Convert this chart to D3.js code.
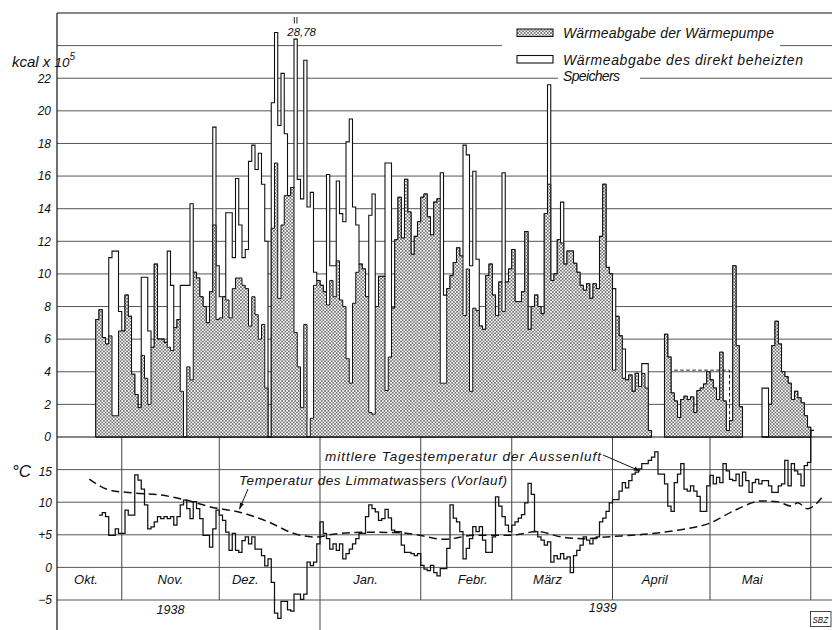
<!DOCTYPE html>
<html><head><meta charset="utf-8">
<script src="https://cdn.jsdelivr.net/npm/d3@7"></script>
<style>
body{margin:0;background:#fff}
text{font-family:"Liberation Sans","DejaVu Sans",sans-serif;font-style:italic;fill:#111}
</style>
</head><body>
<svg id="c" width="832" height="630"></svg>
<script>
// ---------------- DATA ----------------
const heatStart = "1938-10-24"; // first day of the daily heat series
// Wärmeabgabe der Wärmepumpe (kcal x 10^5), one value per day, null = no operation
const pump = [
7.2,7.8,6.1,5.7,6.2,1.3,1.3,6.5,6.5,8.7,
7.4,3.85,2.6,1.8,5.0,3.6,2.0,5.5,10.6,6.0,
6.0,5.8,5.5,5.3,6.7,7.2,2.8,0,4.3,3.5,
10.1,9.75,8.6,8.0,7.0,8.9,13.0,7.2,7.3,8.6,
8.4,7.3,9.1,9.75,9.75,9.3,9.1,6.8,8.6,7.5,
6.0,6.9,3.0,0,12.8,16.8,8.5,13.0,14.8,14.8,
15.3,6.4,4.3,1.8,6.9,0,1.15,9.3,9.6,9.3,
8.9,8.1,9.6,8.6,10.8,8.4,8.0,4.8,3.3,8.2,
10.1,10.6,10.3,8.6,1.5,1.4,8.0,9.85,9.85,2.85,
4.9,7.9,12.1,14.7,12.2,15.8,13.8,11.2,12.3,13.2,
14.7,14.9,13.5,12.4,14.4,14.6,3.3,3.3,9.1,9.9,
10.7,11.6,11.1,7.45,10.3,2.8,7.9,7.75,6.8,6.6,
9.9,10.6,8.7,7.45,9.5,7.7,9.5,10.3,11.5,8.3,
8.3,8.9,12.6,6.6,8.0,8.7,8.0,7.55,13.7,15.5,
9.6,10.0,12.1,11.9,10.6,11.4,11.4,10.65,10.1,9.3,
9.0,9.4,8.5,9.4,9.1,12.3,15.5,10.4,10.0,4.1,
7.4,6.2,3.6,3.5,3.8,2.8,3.9,3.1,3.9,3.0,
0.4,null,null,null,null,6.3,4.9,2.7,2.2,1.2,
2.3,2.5,2.3,2.45,1.5,2.85,3.0,3.25,4.0,3.5,
3.0,2.3,5.2,2.2,0.4,1.0,10.5,5.6,1.85,null,
null,null,null,null,null,0,0,2.0,5.6,7.1,
5.7,4.0,3.7,3.3,2.3,2.8,2.4,2.1,1.3,0.6
];
// Wärmeabgabe des direkt beheizten Speichers (kcal x 10^5), stacked on top
const storage = [
0,0,0,0,4.8,10.1,10.1,1.2,0,0,
0,0,0,0,4.8,6.2,4.5,0,0,0,
0,0,5.9,4.0,0,0,6.5,9.3,5.0,10.8,
0,0,0,0,0,0,6.0,3.3,1.3,0,
5.35,6.45,1.9,6.1,3.25,1.7,2.4,10.1,9.3,8.9,
11.4,8.6,9.0,0,7.7,8.0,10.6,9.3,3.8,0,
0,22.38,11.5,12.8,16.2,14.1,13.85,0.8,0,0,
0,8.0,0.9,1.9,4.9,5.3,5.2,13.3,16.2,5.9,
2.9,0,0,0,12.1,13.5,0,0,0,13.95,
11.9,0,0,0,0,0,0,0,0,0,
0,0,0,0,0,0,12.9,5.4,0,0,
0,0,0,10.45,7.0,7.7,8.4,3.15,0,0,
0,0,0,0,0,8.5,0,0,0,0,
0,0,0,0,0,0,0,0,0,6.1,
0,0,0,2.5,0,0,0,0,0,0,
0,0,0,0,0,0,0,0,0,5.0,
0,0,1.8,0,0,0,0,0,0.6,1.5,
0,null,null,null,null,0,0,0,0,0,
0,0,0,0,0,0,0,0,0,0,
0,0,0,0,0,0,0,0,0,null,
null,null,null,null,null,3.0,3.0,0,0,0,
0,0,0,0,0,0,0,0,0,0
];
// dashed estimate in April / May (kcal x 10^5)
const estimateDates = ["1939-04-20","1939-05-07","1939-05-07"];
const estimateValues = [4.1,4.1,1.1];

// mittlere Tagestemperatur der Aussenluft (°C), daily
const airStart = "1938-10-25";
const airTemp = [
8.0,8.4,7.8,4.9,4.9,5.9,5.2,5.2,8.8,8.0,
8.0,14.2,13.4,12.0,9.6,5.9,6.2,7.0,7.8,7.5,
7.8,7.5,7.8,6.5,7.8,9.6,10.3,9.0,7.5,10.1,
9.0,7.5,4.9,4.9,3.1,5.9,8.8,8.0,7.2,5.4,
2.6,5.2,2.6,2.3,4.1,4.7,3.6,4.7,2.8,2.8,
1.8,0.25,1.3,-2.3,-7.0,-7.8,-5.2,-5.2,-6.5,-6.7,
-4.1,-4.1,-4.9,-4.1,0.8,0.26,0.8,3.6,7.0,5.2,
4.4,2.8,3.6,2.6,3.6,1.3,2.1,2.8,3.6,4.4,
5.2,5.2,7.8,9.6,9.0,8.5,7.2,7.5,8.9,7.6,
5.7,5.5,5.5,3.4,2.3,2.3,
2.1,1.8,2.1,0.3,-0.25,-0.5,0.3,-0.8,-1.3,-0.2,
-0.2,2.9,9.6,7.55,7.0,5.5,1.3,2.9,4.4,6.25,
5.5,6.25,4.2,2.3,2.3,4.7,10.8,9.4,7.8,6.5,
5.5,6.5,7.0,7.55,8.1,9.9,12.9,11.2,5.5,4.7,
4.2,3.4,3.9,0.8,1.8,1.3,2.1,1.3,1.6,-0.8,
1.8,2.6,3.4,4.7,4.2,3.6,4.4,4.7,7.0,7.55,
8.6,9.9,10.4,10.4,11.7,13.0,12.2,13.3,14.3,14.6,
15.1,15.9,15.9,16.4,16.9,17.7,14.3,14.3,12.8,9.4,
8.6,13.0,14.3,15.9,12.0,11.7,12.5,11.7,10.9,8.6,
8.6,12.5,14.1,12.8,13.8,13.0,15.9,14.8,13.5,13.3,
14.3,12.5,14.6,13.3,11.5,13.0,13.5,12.8,13.3,13.3,
12.5,11.5,11.5,12.5,12.8,16.4,12.5,15.9,14.8,14.3,
12.5,15.6,16.1,21.0
];
// Temperatur des Limmatwassers (Vorlauf), °C
const waterDates = ["1938-10-22","1938-10-28","1938-11-05","1938-11-13","1938-11-21","1938-11-29",
"1938-12-07","1938-12-16","1938-12-24","1938-12-31","1939-01-05","1939-01-16","1939-01-26",
"1939-02-01","1939-02-08","1939-02-18","1939-03-01","1939-03-09","1939-03-16","1939-03-23",
"1939-03-31","1939-04-10","1939-04-21","1939-05-01","1939-05-09","1939-05-17","1939-05-22",
"1939-05-26","1939-05-28","1939-05-31","1939-06-05"];
const waterTemp = [13.55,11.9,11.4,11.1,10.3,9.2,8.5,7.0,5.2,4.65,5.1,5.4,5.3,4.9,4.3,4.95,4.95,
5.5,4.7,4.4,4.7,5.05,5.7,6.8,8.85,10.2,10.05,9.4,9.9,9.0,11.1];

const heatTicks = [0,2,4,6,8,10,12,14,16,18,20,22];
const heatGrid = [2,4,6,8,10,12,14,16,18,20,22,24];
const tempTicks = [15,10,5,0,-5];
const tempTickLabels = ["15","10","+5","0","\u22125"];
const monthNames = ["Okt.","Nov.","Dez.","Jan.","Febr.","März","April","Mai"];
const yearNames = ["1938","1939"];

// ---------------- LAYOUT ----------------
const parse = d3.utcParse("%Y-%m-%d");
const DAY = 864e5;
const L = 57, R = 832, TOP = 13;
const x = d3.scaleUtc().domain([Date.UTC(1938,9,1), Date.UTC(1939,5,1)]).range([21, 810.75]);
const yH = d3.scaleLinear().domain([0,26]).range([437,13]);
const yT = d3.scaleLinear().domain([-5,20]).range([600,437]);
const offScale = 26, breakAt = 24.4;

const svg = d3.select("#c");
const defs = svg.append("defs");
const pat = defs.append("pattern").attr("id","hatch").attr("patternUnits","userSpaceOnUse")
  .attr("width",3.3).attr("height",3.3);
pat.append("rect").attr("width",3.3).attr("height",3.3).attr("fill","#fff");
pat.append("path").attr("d","M0,0L3.3,3.3M3.3,0L0,3.3").attr("stroke","#262626").attr("stroke-width",0.55);
defs.append("clipPath").attr("id","plot").append("rect").attr("x",L).attr("y",TOP).attr("width",R-L).attr("height",630-TOP);
defs.append("marker").attr("id","arr").attr("viewBox","0 0 10 10").attr("refX",9).attr("refY",5)
  .attr("markerWidth",7).attr("markerHeight",7).attr("orient","auto-start-reverse")
  .append("path").attr("d","M0,2L10,5L0,8Z").attr("fill","#111");

const gridC = "#444";
const g = svg.append("g");
heatGrid.forEach(v => g.append("line").attr("x1",L).attr("x2",R).attr("y1",yH(v)).attr("y2",yH(v))
  .attr("stroke",gridC).attr("stroke-width",0.9));
tempTicks.forEach(v => g.append("line").attr("x1",L).attr("x2",R).attr("y1",yT(v)).attr("y2",yT(v))
  .attr("stroke",gridC).attr("stroke-width",0.9));
const monthStarts = d3.utcMonth.range(new Date(Date.UTC(1938,10,1)), new Date(Date.UTC(1939,5,2)));
monthStarts.forEach(m => {
  const yearEdge = m.getUTCMonth() === 0;
  g.append("line").attr("x1",x(m)).attr("x2",x(m)).attr("y1",yT(20)).attr("y2",yearEdge?630:yT(-5))
   .attr("stroke",gridC).attr("stroke-width",1);
});
g.append("rect").attr("x",502).attr("y",40).attr("width",278).attr("height",12).attr("fill","#fff");
g.append("rect").attr("x",558).attr("y",70).attr("width",82).attr("height",14).attr("fill","#fff");

// ---------------- BARS ----------------
const t0 = parse(heatStart).getTime();
const rows = pump.map((p,i) => ({date:new Date(t0 + i*DAY), p, s:storage[i]}));
const runs = []; let cur = null;
rows.forEach(r => {
  if (r.p === null) { cur = null; return; }
  if (!cur) { cur = []; runs.push(cur); }
  cur.push(r);
});
const shown = v => v > offScale ? breakAt : v;
const bars = svg.append("g").attr("clip-path","url(#plot)");
runs.forEach(run => {
  const last = run[run.length-1];
  const pts = run.concat([{date:new Date(last.date.getTime()+DAY), p:last.p, s:last.s}]);
  const totalArea = d3.area().curve(d3.curveStepAfter).x(d=>x(d.date)).y0(yH(0)).y1(d=>yH(shown(d.p+d.s)));
  const pumpArea = d3.area().curve(d3.curveStepAfter).x(d=>x(d.date)).y0(yH(0)).y1(d=>yH(d.p));
  bars.append("path").attr("d",totalArea(pts)).attr("fill","#fff").attr("stroke","#111").attr("stroke-width",1.1);
  bars.append("path").attr("d",pumpArea(pts)).attr("fill","url(#hatch)").attr("stroke","#111").attr("stroke-width",1.0);
});
rows.filter(r => r.p !== null && r.p + r.s > offScale).forEach(r => {
  const cx = x(new Date(r.date.getTime()+DAY/2));
  svg.append("line").attr("x1",cx-1.3).attr("x2",cx-1.3).attr("y1",17).attr("y2",23.5).attr("stroke","#111").attr("stroke-width",0.9);
  svg.append("line").attr("x1",cx+1.3).attr("x2",cx+1.3).attr("y1",17).attr("y2",23.5).attr("stroke","#111").attr("stroke-width",0.9);
  svg.append("text").attr("x",cx+6).attr("y",35.5).attr("text-anchor","middle").attr("font-size",11.5)
    .text(d3.format(".2f")(r.p+r.s).replace(".",","));
});
const est = estimateDates.map((d,i)=>({date:parse(d), v:estimateValues[i]}));
svg.append("path").attr("d",d3.line().x(d=>x(d.date)).y(d=>yH(d.v))(est))
  .attr("fill","none").attr("stroke","#222").attr("stroke-width",1).attr("stroke-dasharray","3.5,2.5");

// ---------------- TEMPERATURES ----------------
const a0 = parse(airStart).getTime();
const air = airTemp.map((v,i)=>({date:new Date(a0+i*DAY), v}));
air.push({date:new Date(a0+airTemp.length*DAY), v:airTemp[airTemp.length-1]});
svg.append("path").attr("clip-path","url(#plot)")
  .attr("d",d3.line().curve(d3.curveStepAfter).x(d=>x(d.date)).y(d=>yT(d.v))(air))
  .attr("fill","none").attr("stroke","#111").attr("stroke-width",1.25);
const water = waterDates.map((d,i)=>({date:parse(d), v:waterTemp[i]}));
svg.append("path").attr("clip-path","url(#plot)")
  .attr("d",d3.line().curve(d3.curveMonotoneX).x(d=>x(d.date)).y(d=>yT(d.v))(water))
  .attr("fill","none").attr("stroke","#111").attr("stroke-width",1.5).attr("stroke-dasharray","8,4.5");

// ---------------- FRAME ----------------
svg.append("line").attr("x1",L).attr("x2",L).attr("y1",TOP).attr("y2",630).attr("stroke","#111").attr("stroke-width",1.2);
svg.append("line").attr("x1",L).attr("x2",R).attr("y1",TOP).attr("y2",TOP).attr("stroke","#111").attr("stroke-width",1.2);
svg.append("line").attr("x1",L).attr("x2",R).attr("y1",yH(0)).attr("y2",yH(0)).attr("stroke","#111").attr("stroke-width",1.2);

// ---------------- AXIS LABELS ----------------
heatTicks.forEach(v => svg.append("text").attr("x",51).attr("y",yH(v)).attr("dy","0.36em")
  .attr("text-anchor","end").attr("font-size",12).text(v));
const kc = svg.append("text").attr("x",12).attr("y",67).attr("font-size",15);
kc.append("tspan").text("kcal x ");
kc.append("tspan").attr("font-size",13.5).text("10");
kc.append("tspan").attr("font-size",10).attr("dy",-7).text("5");

svg.append("text").attr("x",12).attr("y",477).attr("font-size",17).attr("font-style","normal").text("°C");
tempTicks.forEach((v,i) => svg.append("text").attr("x",52).attr("y",yT(v)+ (v===15?2:0)).attr("dy","0.36em")
  .attr("text-anchor","end").attr("font-size",12).text(tempTickLabels[i]));

const monthLabelAt = ["1938-10-21","1938-11-16","1938-12-09","1939-01-15","1939-02-17","1939-03-12","1939-04-14","1939-05-14"];
monthNames.forEach((m,i) => svg.append("text").attr("x",x(parse(monthLabelAt[i]))).attr("y",584)
  .attr("text-anchor","middle").attr("font-size",13).text(m));
const yearLabelAt = ["1938-11-16","1939-03-29"];
yearNames.forEach((yv,i) => svg.append("text").attr("x",x(parse(yearLabelAt[i]))).attr("y",i?612:614)
  .attr("text-anchor","middle").attr("font-size",12.5).text(yv));

// ---------------- LEGEND ----------------
svg.append("rect").attr("x",517).attr("y",29).attr("width",36).attr("height",7.5).attr("fill","url(#hatch)").attr("stroke","#111").attr("stroke-width",1);
svg.append("text").attr("x",563).attr("y",37.5).attr("font-size",14).attr("textLength",211).attr("lengthAdjust","spacing").text("Wärmeabgabe der Wärmepumpe");
svg.append("rect").attr("x",517).attr("y",55.5).attr("width",36).attr("height",7.5).attr("fill","#fff").attr("stroke","#111").attr("stroke-width",1.1);
svg.append("text").attr("x",563).attr("y",64.5).attr("font-size",14).attr("textLength",240).attr("lengthAdjust","spacing").text("Wärmeabgabe des direkt beheizten");
svg.append("text").attr("x",563).attr("y",81).attr("font-size",14).attr("textLength",57).attr("lengthAdjust","spacing").text("Speichers");

// ---------------- ANNOTATIONS ----------------
svg.append("text").attr("x",325).attr("y",461).attr("font-size",13.5).attr("textLength",276).attr("lengthAdjust","spacing").text("mittlere Tagestemperatur der Aussenluft");
svg.append("line").attr("x1",603).attr("y1",455).attr("x2",640).attr("y2",471).attr("stroke","#111").attr("stroke-width",1).attr("marker-end","url(#arr)");
svg.append("text").attr("x",239).attr("y",485).attr("font-size",13.5).attr("textLength",268).attr("lengthAdjust","spacing").text("Temperatur des Limmatwassers (Vorlauf)");
svg.append("line").attr("x1",248).attr("y1",489).attr("x2",239.5).attr("y2",509).attr("stroke","#111").attr("stroke-width",1).attr("marker-end","url(#arr)");

// SBZ mark
svg.append("rect").attr("x",810.5).attr("y",611.5).attr("width",20.5).attr("height",15).attr("fill","#fff").attr("stroke","#333").attr("stroke-width",0.9);
svg.append("text").attr("x",812.5).attr("y",623).attr("font-size",9.5).attr("font-style","normal").attr("textLength",15.5).attr("lengthAdjust","spacingAndGlyphs").text("SBZ");
</script>
</body></html>
